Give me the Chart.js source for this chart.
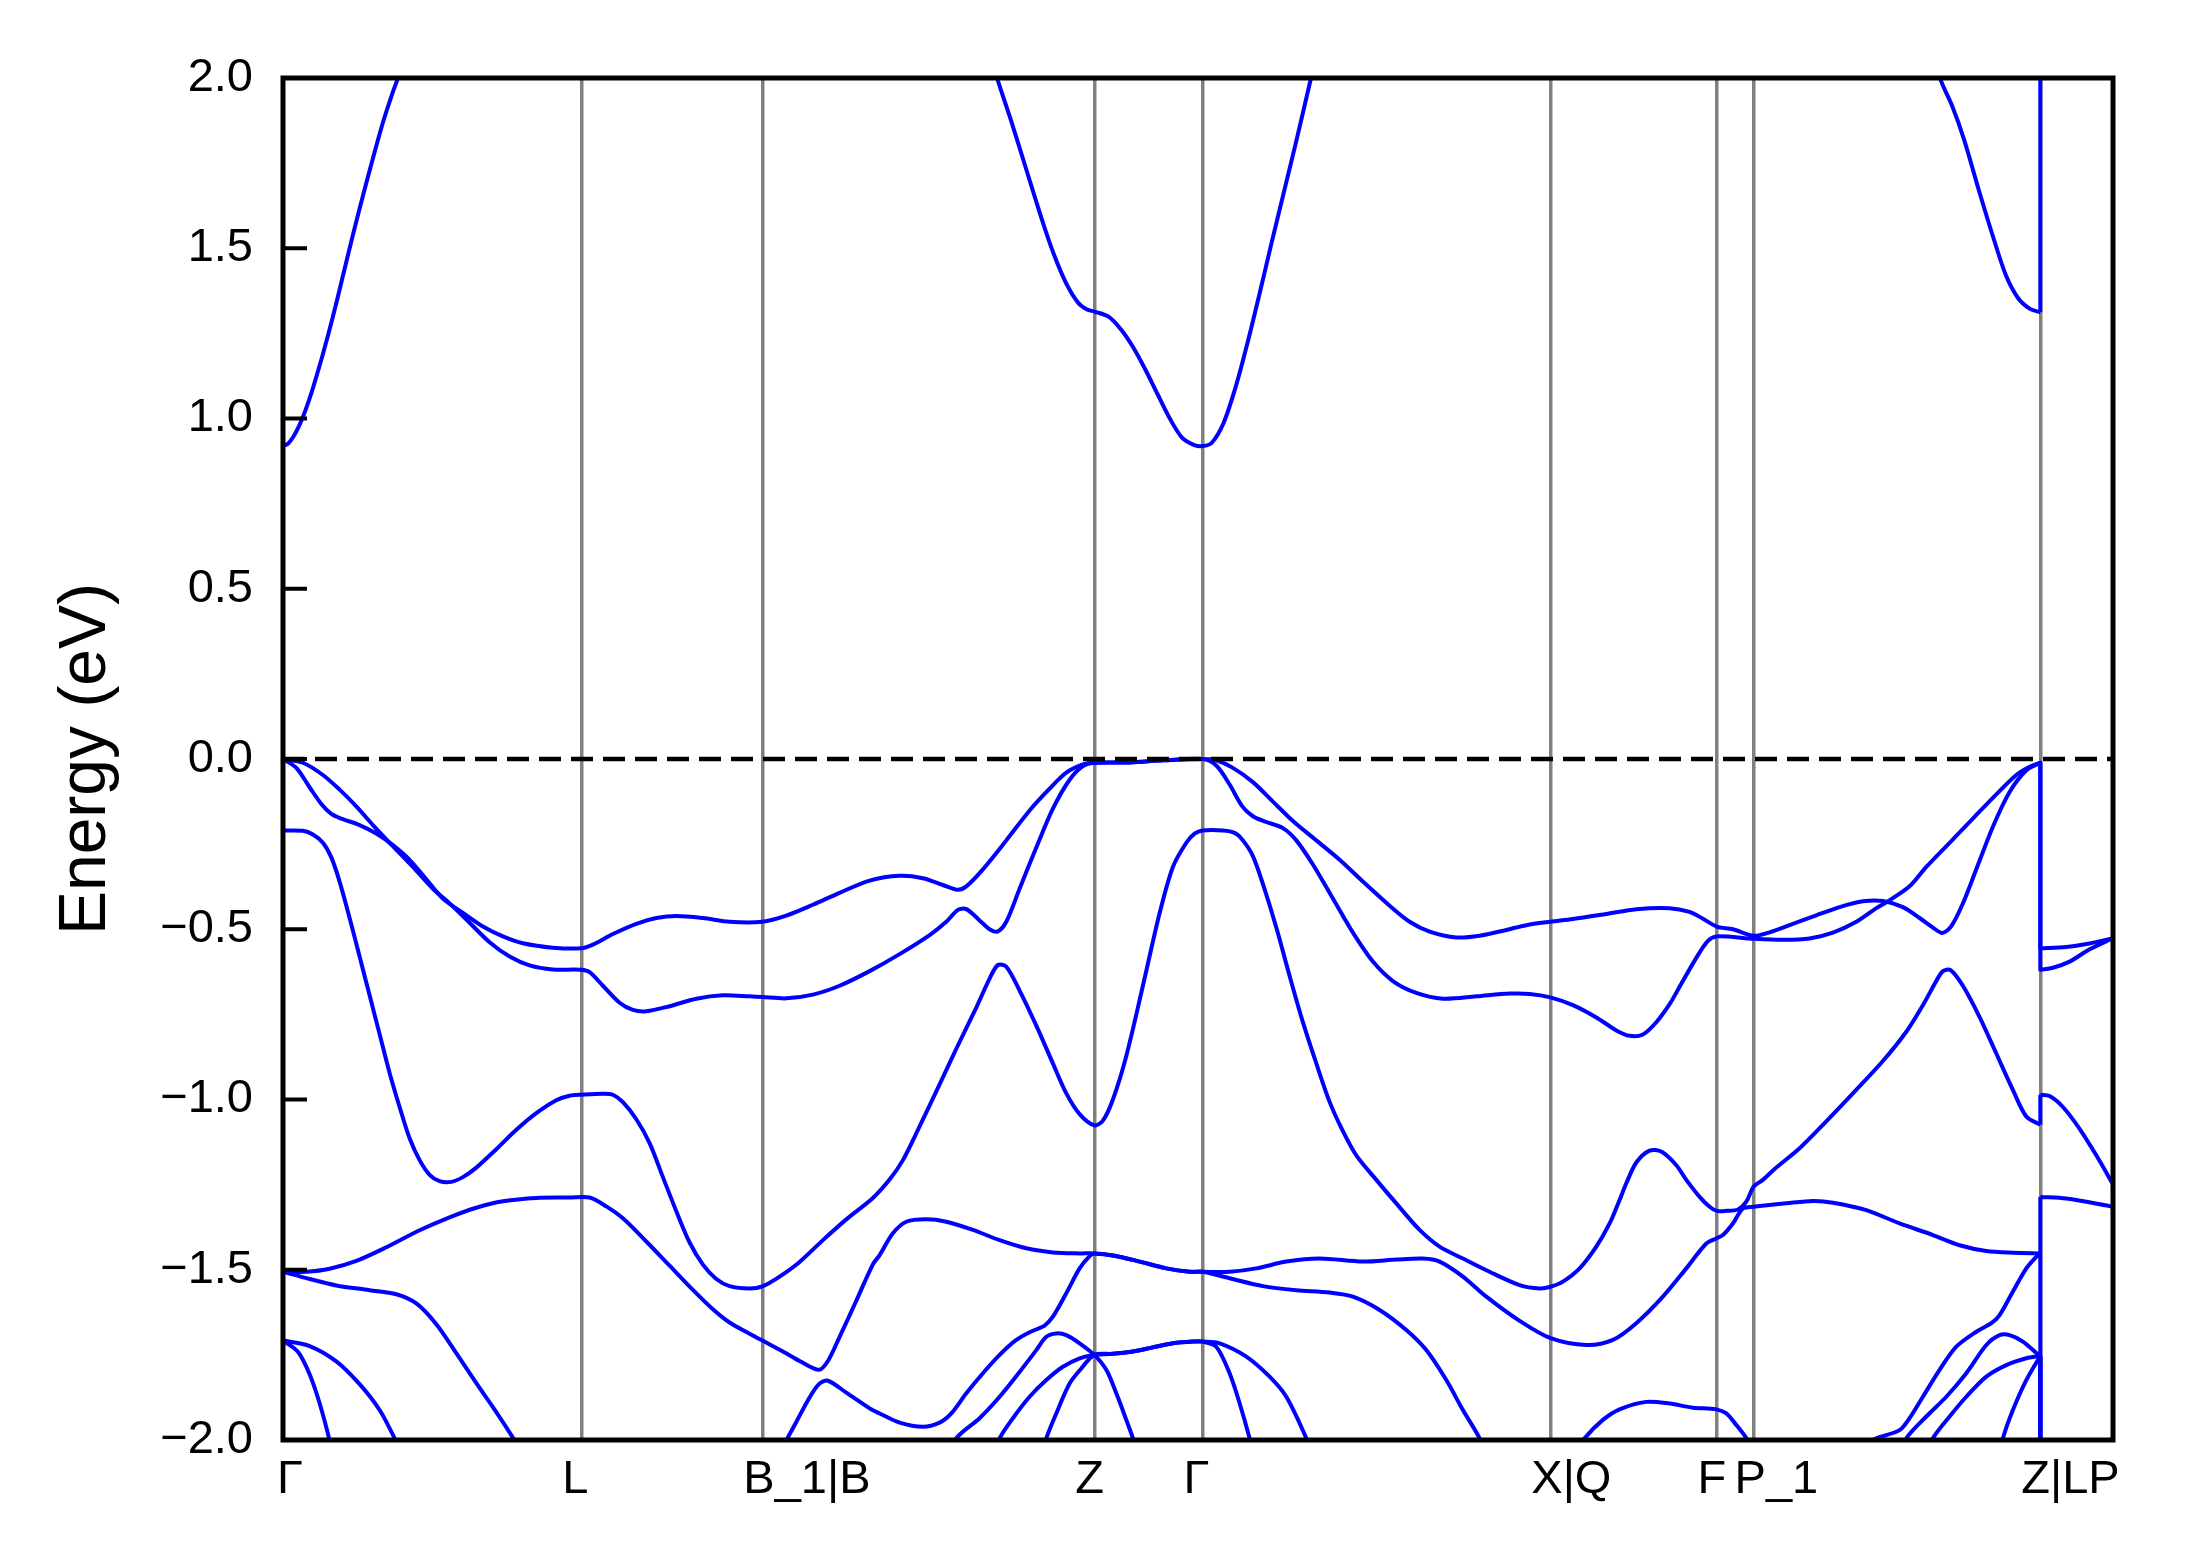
<!DOCTYPE html>
<html><head><meta charset="utf-8">
<script src="https://cdn.jsdelivr.net/npm/chart.js@4.4.1/dist/chart.umd.min.js"></script>
<style>html,body{margin:0;padding:0;background:#fff;}canvas{display:block;}</style>
</head><body>
<canvas id="c" width="2189" height="1567"></canvas>
<script>
// k-path (high-symmetry points) and energy axis
const kTicks = [0, 298.3, 479.3, 811.3, 919.6, 1267.3, 1433.6, 1470.6, 1757.3];
const kLabels = ['Γ', 'L', 'B_1|B', 'Z', 'Γ', 'X|Q', 'F', 'P_1', 'Z|LP'];
const kEnd = 1830;
const eMin = -2, eMax = 2, eStep = 0.5;
const fermiLevel = 0;

// conduction band pieces
const cb1 = [[0,0.919],[5,0.926],[10,0.945],[15,0.972],[20,1.005],[25,1.045],[30,1.09],[40,1.19],[50,1.3],[60,1.42],[70,1.54],[80,1.655],[90,1.765],[100,1.87],[110,1.96],[115,2.0],[124,2.08]];
const cb2 = [[705,2.1],[714.1,2.0],[727.6,1.879],[742.9,1.735],[758.2,1.591],[770.4,1.486],[782.7,1.4],[794.9,1.341],[804.1,1.32],[811.3,1.314],[825.5,1.299],[837.8,1.262],[850,1.21],[862.3,1.144],[874.5,1.072],[886.8,1.0],[899,0.944],[911.3,0.922],[919.6,0.919],[928.6,0.928],[940.6,0.987],[952.6,1.092],[964.6,1.223],[976.6,1.367],[988.5,1.515],[1000.5,1.66],[1012.5,1.805],[1028,2.0],[1036,2.1]];
const cb3 = [[1650,2.1],[1657,2.0],[1669,1.919],[1681,1.82],[1696,1.669],[1711,1.525],[1723,1.42],[1735,1.354],[1747,1.322],[1757.3,1.312]];
const cb3LP = [[1757.3,2.5],[1830,2.5]];

// valence bands
const vb1 = [[0,0],[13.3,-0.026],[26.6,-0.083],[38.3,-0.132],[48.3,-0.161],[58.3,-0.175],[76.6,-0.194],[93.3,-0.219],[109.9,-0.253],[126.6,-0.296],[143.3,-0.353],[159.9,-0.41],[179.9,-0.452],[199.9,-0.492],[219.9,-0.521],[239.9,-0.541],[269.9,-0.554],[298.3,-0.556],[309.9,-0.545],[329.9,-0.514],[353.3,-0.484],[373.3,-0.467],[393.3,-0.461],[419.9,-0.467],[446.6,-0.478],[479.3,-0.478],[503.3,-0.46],[529.9,-0.428],[556.6,-0.393],[586.6,-0.357],[616.6,-0.343],[639.9,-0.35],[659.9,-0.37],[674.3,-0.384],[683.3,-0.374],[699.9,-0.324],[723.3,-0.239],[746.6,-0.151],[766.6,-0.087],[783.3,-0.04],[799.9,-0.016],[811.3,-0.011],[846.6,-0.01],[879.9,-0.004],[919.6,0],[933.3,-0.004],[949.9,-0.026],[969.9,-0.068],[989.9,-0.125],[1009.9,-0.182],[1033.3,-0.239],[1056.6,-0.296],[1079.9,-0.36],[1106.6,-0.431],[1126.6,-0.478],[1146.6,-0.507],[1173.3,-0.524],[1196.6,-0.519],[1223.3,-0.502],[1243.3,-0.488],[1267.3,-0.478],[1289.9,-0.47],[1323.3,-0.455],[1353.3,-0.441],[1386.6,-0.438],[1406.6,-0.449],[1419.9,-0.469],[1433.6,-0.492],[1449.9,-0.5],[1470.6,-0.519],[1486.6,-0.509],[1506.6,-0.488],[1533.3,-0.459],[1556.6,-0.435],[1579.9,-0.418],[1599.9,-0.417],[1619.9,-0.435],[1636.6,-0.467],[1649.9,-0.495],[1659.3,-0.511],[1668.3,-0.491],[1679.9,-0.424],[1693.3,-0.324],[1709.9,-0.199],[1726.6,-0.097],[1743.3,-0.033],[1757.3,-0.011]];
const vb1LP = [[1757.3,-0.556],[1783.3,-0.552],[1806.6,-0.542],[1830,-0.526]];

const vb2 = [[0,0],[19.9,-0.011],[39.9,-0.047],[56.6,-0.09],[73.3,-0.139],[89.9,-0.194],[109.9,-0.256],[129.9,-0.317],[149.9,-0.381],[166.6,-0.424],[186.6,-0.481],[206.6,-0.538],[226.6,-0.58],[246.6,-0.606],[269.9,-0.618],[298.3,-0.619],[306.6,-0.626],[319.9,-0.666],[336.6,-0.716],[349.9,-0.737],[363.3,-0.741],[386.6,-0.726],[413.3,-0.704],[439.9,-0.694],[466.6,-0.697],[479.3,-0.699],[503.3,-0.703],[529.9,-0.692],[556.6,-0.666],[586.6,-0.623],[616.6,-0.573],[646.6,-0.517],[663.3,-0.478],[674.9,-0.443],[683.3,-0.441],[696.6,-0.474],[706.6,-0.5],[714.3,-0.507],[723.3,-0.478],[736.6,-0.381],[753.3,-0.26],[769.9,-0.146],[786.6,-0.061],[799.9,-0.021],[811.3,-0.011],[846.6,-0.01],[879.9,-0.004],[919.6,0],[933.3,-0.019],[946.6,-0.075],[959.3,-0.139],[969.9,-0.168],[983.3,-0.185],[999.9,-0.203],[1013.3,-0.239],[1029.9,-0.31],[1049.9,-0.41],[1069.9,-0.51],[1089.9,-0.595],[1109.9,-0.652],[1133.3,-0.687],[1159.9,-0.704],[1193.3,-0.697],[1226.6,-0.689],[1246.6,-0.69],[1267.3,-0.7],[1289.9,-0.723],[1313.3,-0.759],[1333.3,-0.797],[1346.6,-0.813],[1359.9,-0.809],[1373.3,-0.773],[1386.6,-0.72],[1396.6,-0.669],[1413.3,-0.584],[1424.9,-0.534],[1433.6,-0.521],[1470.6,-0.528],[1499.9,-0.531],[1526.6,-0.527],[1549.9,-0.51],[1573.3,-0.478],[1593.3,-0.438],[1603.3,-0.421],[1626.6,-0.374],[1643.3,-0.317],[1666.6,-0.246],[1689.9,-0.175],[1713.3,-0.104],[1733.3,-0.047],[1746.6,-0.023],[1757.3,-0.011]];
const vb2LP = [[1757.3,-0.619],[1769.9,-0.613],[1786.6,-0.595],[1806.6,-0.559],[1830,-0.526]];

const vb3 = [[0,-0.21],[19.9,-0.211],[29.9,-0.222],[39.9,-0.246],[48.3,-0.289],[56.6,-0.36],[66.6,-0.467],[76.6,-0.58],[86.6,-0.694],[96.6,-0.808],[106.6,-0.922],[116.6,-1.022],[126.6,-1.114],[136.6,-1.178],[146.6,-1.221],[156.6,-1.24],[168.3,-1.242],[179.9,-1.228],[193.3,-1.2],[213.3,-1.146],[233.3,-1.089],[253.3,-1.04],[273.3,-1.002],[286.6,-0.989],[298.3,-0.986],[319.9,-0.983],[329.9,-0.986],[339.9,-1.008],[353.3,-1.058],[366.6,-1.128],[379.9,-1.228],[393.3,-1.328],[406.6,-1.42],[419.9,-1.485],[433.3,-1.527],[446.6,-1.548],[466.6,-1.555],[479.3,-1.549],[496.6,-1.52],[516.6,-1.477],[539.9,-1.413],[563.3,-1.352],[589.9,-1.289],[606.6,-1.235],[619.9,-1.178],[636.6,-1.079],[653.3,-0.976],[673.3,-0.851],[693.3,-0.73],[706.6,-0.645],[714.9,-0.605],[723.3,-0.61],[736.6,-0.68],[753.3,-0.783],[769.9,-0.894],[783.3,-0.982],[796.6,-1.043],[811.3,-1.076],[819.9,-1.062],[829.9,-1.0],[843.3,-0.872],[859.9,-0.666],[876.6,-0.453],[889.9,-0.317],[903.3,-0.246],[911.6,-0.219],[919.6,-0.21],[939.9,-0.21],[951.6,-0.217],[959.9,-0.239],[969.9,-0.285],[979.9,-0.367],[993.3,-0.495],[1006.6,-0.637],[1019.9,-0.773],[1033.3,-0.894],[1046.6,-1.007],[1059.9,-1.093],[1073.3,-1.164],[1093.3,-1.236],[1113.3,-1.305],[1136.6,-1.383],[1156.6,-1.432],[1179.9,-1.467],[1206.6,-1.506],[1236.6,-1.545],[1256.6,-1.555],[1267.6,-1.55],[1279.9,-1.535],[1296.6,-1.496],[1313.3,-1.432],[1326.6,-1.364],[1336.6,-1.295],[1343.3,-1.246],[1353.3,-1.185],[1366.6,-1.15],[1378.3,-1.153],[1393.3,-1.193],[1403.3,-1.236],[1416.6,-1.286],[1426.6,-1.315],[1433.6,-1.327],[1443.3,-1.327],[1454.9,-1.323],[1463.3,-1.3],[1470.6,-1.256],[1479.9,-1.236],[1493.3,-1.2],[1516.6,-1.143],[1543.3,-1.064],[1569.9,-0.982],[1599.9,-0.887],[1623.3,-0.801],[1639.9,-0.723],[1653.3,-0.652],[1659.9,-0.623],[1667.6,-0.62],[1679.9,-0.666],[1696.6,-0.758],[1713.3,-0.865],[1729.9,-0.972],[1743.3,-1.05],[1757.3,-1.074]];
const vb3LP = [[1757.3,-0.986],[1766.6,-0.99],[1779.9,-1.022],[1796.6,-1.086],[1813.3,-1.164],[1830,-1.249]];

const vb4 = [[0,-1.506],[23.3,-1.506],[46.6,-1.497],[73.3,-1.474],[103.3,-1.434],[136.6,-1.384],[166.6,-1.346],[193.3,-1.318],[219.9,-1.299],[253.3,-1.289],[286.6,-1.288],[306.6,-1.288],[323.3,-1.314],[339.9,-1.349],[363.3,-1.417],[386.6,-1.488],[409.9,-1.559],[429.9,-1.616],[446.6,-1.655],[466.6,-1.688],[479.3,-1.708],[499.9,-1.74],[516.6,-1.768],[535.9,-1.794],[544.9,-1.768],[556.6,-1.697],[573.3,-1.591],[589.9,-1.484],[596.6,-1.457],[609.9,-1.393],[623.3,-1.359],[643.3,-1.352],[663.3,-1.359],[689.9,-1.383],[716.6,-1.413],[743.3,-1.437],[769.9,-1.449],[796.6,-1.452],[811.3,-1.452],[829.9,-1.458],[856.6,-1.476],[883.3,-1.496],[906.6,-1.506],[919.6,-1.506],[946.6,-1.506],[973.3,-1.496],[1003.3,-1.476],[1036.6,-1.467],[1079.9,-1.476],[1113.3,-1.47],[1139.9,-1.467],[1156.6,-1.476],[1179.9,-1.52],[1203.3,-1.579],[1236.6,-1.65],[1267.6,-1.701],[1303.3,-1.721],[1329.9,-1.706],[1353.3,-1.657],[1379.9,-1.579],[1403.3,-1.496],[1423.3,-1.423],[1433.3,-1.408],[1439.9,-1.398],[1449.9,-1.364],[1459.9,-1.32],[1470.6,-1.315],[1503.3,-1.305],[1530,-1.298],[1550,-1.303],[1583.3,-1.325],[1616.6,-1.364],[1649.9,-1.398],[1676.6,-1.428],[1703.3,-1.445],[1729.9,-1.45],[1757.3,-1.452]];
const vb4LP = [[1757.3,-1.286],[1783.3,-1.291],[1830,-1.315]];

const vb5 = [[0,-1.506],[26.6,-1.527],[53.3,-1.546],[86.6,-1.56],[113.3,-1.572],[133.3,-1.599],[153.3,-1.66],[173.3,-1.745],[193.3,-1.833],[213.3,-1.918],[231.6,-2.001],[250,-2.09]];
const vb6 = [[495,-2.05],[503.3,-2.001],[513.3,-1.947],[525,-1.883],[535.9,-1.836],[544.9,-1.826],[563.3,-1.861],[586.6,-1.907],[596.6,-1.922],[616.6,-1.949],[639.9,-1.961],[656.6,-1.949],[668.3,-1.922],[683.3,-1.863],[699.9,-1.804],[716.6,-1.75],[733.3,-1.706],[749.9,-1.679],[761.6,-1.664],[769.9,-1.638],[783.3,-1.569],[796.6,-1.496],[806.6,-1.46],[811.3,-1.452],[829.9,-1.458],[856.6,-1.476],[883.3,-1.496],[906.6,-1.506],[919.6,-1.506],[946.6,-1.525],[979.9,-1.548],[1013.3,-1.56],[1046.6,-1.567],[1069.9,-1.579],[1096.6,-1.618],[1123.3,-1.677],[1143.3,-1.736],[1163.3,-1.824],[1179.9,-1.912],[1196.6,-1.995],[1205,-2.06]];
const vb7 = [[665,-2.06],[673.3,-1.995],[696.6,-1.936],[716.6,-1.873],[736.6,-1.8],[753.3,-1.736],[763.3,-1.697],[773.3,-1.687],[783.3,-1.692],[796.6,-1.716],[811.3,-1.75],[823.3,-1.794],[833.3,-1.863],[843.3,-1.941],[849.9,-1.995],[855,-2.05]];
const vb8 = [[710,-2.05],[716.6,-1.995],[729.9,-1.936],[746.6,-1.873],[763.3,-1.824],[779.9,-1.785],[796.6,-1.76],[811.3,-1.75],[829.9,-1.747],[849.9,-1.74],[869.9,-1.728],[889.9,-1.716],[909.9,-1.711],[919.6,-1.711],[936.6,-1.716],[963.3,-1.755],[986.6,-1.814],[1003.3,-1.873],[1023.3,-1.995],[1028,-2.04]];
const vb9 = [[760,-2.04],[763.3,-1.995],[773.3,-1.922],[786.6,-1.834],[798.3,-1.79],[811.3,-1.75],[829.9,-1.747],[849.9,-1.74],[869.9,-1.728],[889.9,-1.716],[909.9,-1.711],[919.6,-1.711],[933.3,-1.726],[946.6,-1.804],[956.6,-1.892],[966.6,-1.995],[970,-2.04]];
const vb10 = [[0,-1.708],[26.6,-1.724],[53.3,-1.769],[76.6,-1.836],[96.6,-1.912],[112.6,-2.001],[118,-2.04]];
const vb11 = [[0,-1.708],[14.9,-1.741],[26.6,-1.807],[36.6,-1.892],[46.6,-2.001],[49,-2.04]];
const vb12 = [[1295,-2.03],[1301.6,-1.995],[1319.9,-1.941],[1336.6,-1.91],[1363.3,-1.888],[1386.6,-1.893],[1409.9,-1.905],[1433.3,-1.91],[1443.3,-1.922],[1453.3,-1.956],[1463.3,-1.995],[1468,-2.03]];
const vb13 = [[1570,-2.03],[1593.3,-1.995],[1616.6,-1.971],[1626.6,-1.936],[1639.9,-1.873],[1656.6,-1.794],[1673.3,-1.726],[1693.3,-1.682],[1708.3,-1.657],[1716.6,-1.633],[1729.9,-1.564],[1743.3,-1.496],[1751.6,-1.467],[1757.3,-1.452]];
const vb14 = [[1618,-2.04],[1623.3,-1.995],[1643.3,-1.931],[1663.3,-1.873],[1683.3,-1.804],[1703.3,-1.721],[1716.6,-1.692],[1726.6,-1.692],[1739.9,-1.711],[1757.3,-1.755]];
const vb15 = [[1645,-2.04],[1649.9,-1.995],[1666.6,-1.931],[1683.3,-1.873],[1703.3,-1.814],[1723.3,-1.78],[1743.3,-1.76],[1757.3,-1.753]];
const vb16 = [[1717,-2.04],[1719.9,-1.995],[1729.9,-1.912],[1743.3,-1.824],[1757.3,-1.753]];
const deepLP = [[1757.3,-2.5],[1830,-2.5]];

const bandPieces = [
  [cb1], [cb2], [cb3, cb3LP],
  [vb1, vb1LP], [vb2, vb2LP], [vb3, vb3LP], [vb4, vb4LP],
  [vb5], [vb6], [vb7], [vb8], [vb9], [vb10], [vb11], [vb12],
  [vb13, deepLP], [vb14, deepLP], [vb15, deepLP], [vb16, deepLP]
];

const BLUE = '#0000ff';
function lineDs(data, tension) {
  return {data, borderColor: BLUE, borderWidth: 4, pointRadius: 0, tension,
          borderJoinStyle: 'round', fill: false};
}
const datasets = [{
  data: [[kTicks[0], fermiLevel], [kEnd, fermiLevel]],
  borderColor: '#000', borderWidth: 4.5, borderDash: [22, 10], pointRadius: 0, tension: 0, fill: false
}];
bandPieces.forEach(([main, lp]) => {
  datasets.push(lineDs(main, 0.3));
  if (lp) {
    datasets.push(lineDs(lp, 0.3));
    datasets.push(lineDs([main[main.length - 1], lp[0]], 0));
  }
});

const framePlugin = {
  id: 'frame',
  afterDatasetsDraw(chart) {
    const {ctx, chartArea: a} = chart;
    const ys = chart.scales.y;
    ctx.save();
    ctx.strokeStyle = '#000';
    ctx.lineWidth = 4;
    ys.ticks.forEach(t => {
      const py = ys.getPixelForValue(t.value);
      ctx.beginPath(); ctx.moveTo(a.left, py); ctx.lineTo(a.left + 24, py); ctx.stroke();
    });
    ctx.lineWidth = 5;
    ctx.strokeRect(a.left, a.top, a.right - a.left, a.bottom - a.top);
    ctx.restore();
  }
};

Chart.defaults.font.family = "'Liberation Sans', Arial, Helvetica, sans-serif";
Chart.defaults.color = '#000';

new Chart(document.getElementById('c'), {
  type: 'line',
  data: {datasets},
  options: {
    responsive: false, devicePixelRatio: 1, animation: false,
    layout: {padding: {top: 78, right: 76, left: 0, bottom: 0}},
    elements: {line: {capBezierPoints: false}},
    plugins: {legend: {display: false}, tooltip: {enabled: false}},
    scales: {
      x: {
        type: 'linear', min: 0, max: kEnd,
        afterBuildTicks: s => { s.ticks = kTicks.map(v => ({value: v})); },
        afterFit: s => { s.height = 127; },
        ticks: {
          callback: v => { const i = kTicks.indexOf(v); return (i === 0 ? ' ' : '') + kLabels[i]; },
          font: {size: 47}, color: '#000', align: 'start', labelOffset: -19,
          padding: 12, autoSkip: false, maxRotation: 0, minRotation: 0
        },
        grid: {color: '#808080', lineWidth: 3.5, drawTicks: false},
        border: {display: false}
      },
      y: {
        type: 'linear', min: eMin, max: eMax,
        afterFit: s => { s.width = 283; },
        ticks: {
          stepSize: eStep,
          callback: v => (v < 0 ? '\u2212' : '') + Math.abs(v).toFixed(1),
          font: {size: 47}, color: '#000', padding: 30
        },
        grid: {display: false, drawTicks: false},
        border: {display: false},
        title: {display: true, text: 'Energy (eV)', font: {size: 66}, color: '#000', padding: {top: 47, bottom: 0}}
      }
    }
  },
  plugins: [framePlugin]
});
</script>
</body></html>
